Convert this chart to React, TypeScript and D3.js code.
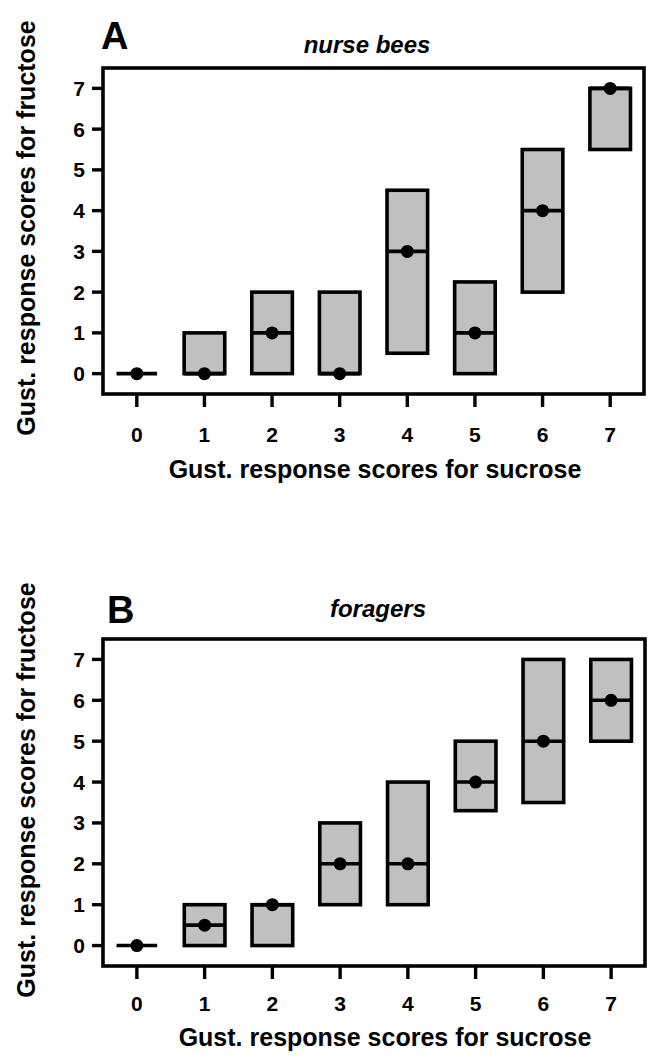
import React from "react";
import * as d3 from "d3";

const sucroseScores = [0, 1, 2, 3, 4, 5, 6, 7];
const fructoseTicks = [0, 1, 2, 3, 4, 5, 6, 7];

const nurseQ1 = [0, 0, 0, 0, 0.5, 0, 2, 5.5];
const nurseQ3 = [0, 1, 2, 2, 4.5, 2.25, 5.5, 7];
const nurseMedian = [0, 0, 1, 0, 3, 1, 4, 7];

const foragerQ1 = [0, 0, 0, 1, 1, 3.3, 3.5, 5];
const foragerQ3 = [0, 1, 1, 3, 4, 5, 7, 7];
const foragerMedian = [0, 0.5, 1, 2, 2, 4, 5, 6];

const panelLetters = ["A", "B"];
const panelTitles = ["nurse bees", "foragers"];
const xLabel = "Gust. response scores for sucrose";
const yLabel = "Gust. response scores for fructose";

const FONT = "'Liberation Sans', Arial, Helvetica, sans-serif";

type PanelProps = {
  letter: string;
  title: string;
  q1: number[];
  q3: number[];
  med: number[];
  frame: { left: number; top: number; right: number; bottom: number };
  letterPos: [number, number];
  titlePos: [number, number];
  yLabelCenter: number;
  xLabelPos: [number, number];
  tickLabelBaseline: number;
};

function Panel(p: PanelProps) {
  const { frame } = p;
  const x = d3.scaleLinear().domain([-0.5, 7.5]).range([frame.left, frame.right]);
  const y = d3.scaleLinear().domain([-0.5, 7.5]).range([frame.bottom, frame.top]);
  const halfW = 0.3;
  const sw = 3.6;
  return (
    <g>
      <text x={p.letterPos[0]} y={p.letterPos[1]} fontFamily={FONT} fontWeight="bold" fontSize={38}>
        {p.letter}
      </text>
      <text
        x={p.titlePos[0]}
        y={p.titlePos[1]}
        fontFamily={FONT}
        fontWeight="bold"
        fontStyle="italic"
        fontSize={24}
        textAnchor="middle"
      >
        {p.title}
      </text>
      {sucroseScores.map((s, i) => {
        const x0 = x(s - halfW);
        const x1 = x(s + halfW);
        const yTop = y(p.q3[i]);
        const yBot = y(p.q1[i]);
        return (
          <g key={i}>
            {p.q3[i] > p.q1[i] && (
              <rect
                x={x0}
                y={yTop}
                width={x1 - x0}
                height={yBot - yTop}
                fill="#c0c0c0"
                stroke="#000"
                strokeWidth={sw}
              />
            )}
            <line x1={x0} x2={x1} y1={y(p.med[i])} y2={y(p.med[i])} stroke="#000" strokeWidth={sw} />
            <circle cx={x(s)} cy={y(p.med[i])} r={6.5} fill="#000" />
          </g>
        );
      })}
      <rect
        x={frame.left}
        y={frame.top}
        width={frame.right - frame.left}
        height={frame.bottom - frame.top}
        fill="none"
        stroke="#000"
        strokeWidth={sw}
      />
      {fructoseTicks.map((t) => (
        <g key={"y" + t}>
          <line x1={frame.left - 11} x2={frame.left} y1={y(t)} y2={y(t)} stroke="#000" strokeWidth={3.4} />
          <text
            x={frame.left - 18}
            y={y(t)}
            dy="0.36em"
            textAnchor="end"
            fontFamily={FONT}
            fontWeight="bold"
            fontSize={21}
          >
            {t}
          </text>
        </g>
      ))}
      {sucroseScores.map((t) => (
        <g key={"x" + t}>
          <line x1={x(t)} x2={x(t)} y1={frame.bottom} y2={frame.bottom + 13} stroke="#000" strokeWidth={3.4} />
          <text
            x={x(t)}
            y={p.tickLabelBaseline}
            textAnchor="middle"
            fontFamily={FONT}
            fontWeight="bold"
            fontSize={21}
          >
            {t}
          </text>
        </g>
      ))}
      <text
        transform={`translate(35,${p.yLabelCenter}) rotate(-90)`}
        textAnchor="middle"
        fontFamily={FONT}
        fontWeight="bold"
        fontSize={25}
      >
        {yLabel}
      </text>
      <text
        x={p.xLabelPos[0]}
        y={p.xLabelPos[1]}
        textAnchor="middle"
        fontFamily={FONT}
        fontWeight="bold"
        fontSize={25}
      >
        {xLabel}
      </text>
    </g>
  );
}

export default function App() {
  return (
    <svg
      width={654}
      height={1059}
      viewBox="0 0 654 1059"
      style={{ position: "absolute", left: 0, top: 0, background: "#fff" }}
    >
      <rect x={0} y={0} width={654} height={1059} fill="#fff" />
      <Panel
        letter={panelLetters[0]}
        title={panelTitles[0]}
        q1={nurseQ1}
        q3={nurseQ3}
        med={nurseMedian}
        frame={{ left: 103, top: 68, right: 644, bottom: 394 }}
        letterPos={[101, 49]}
        titlePos={[367, 53]}
        yLabelCenter={228}
        xLabelPos={[375, 478]}
        tickLabelBaseline={442}
      />
      <Panel
        letter={panelLetters[1]}
        title={panelTitles[1]}
        q1={foragerQ1}
        q3={foragerQ3}
        med={foragerMedian}
        frame={{ left: 103, top: 639, right: 645, bottom: 966 }}
        letterPos={[107, 623]}
        titlePos={[378, 617]}
        yLabelCenter={790}
        xLabelPos={[385, 1046]}
        tickLabelBaseline={1011}
      />
    </svg>
  );
}
